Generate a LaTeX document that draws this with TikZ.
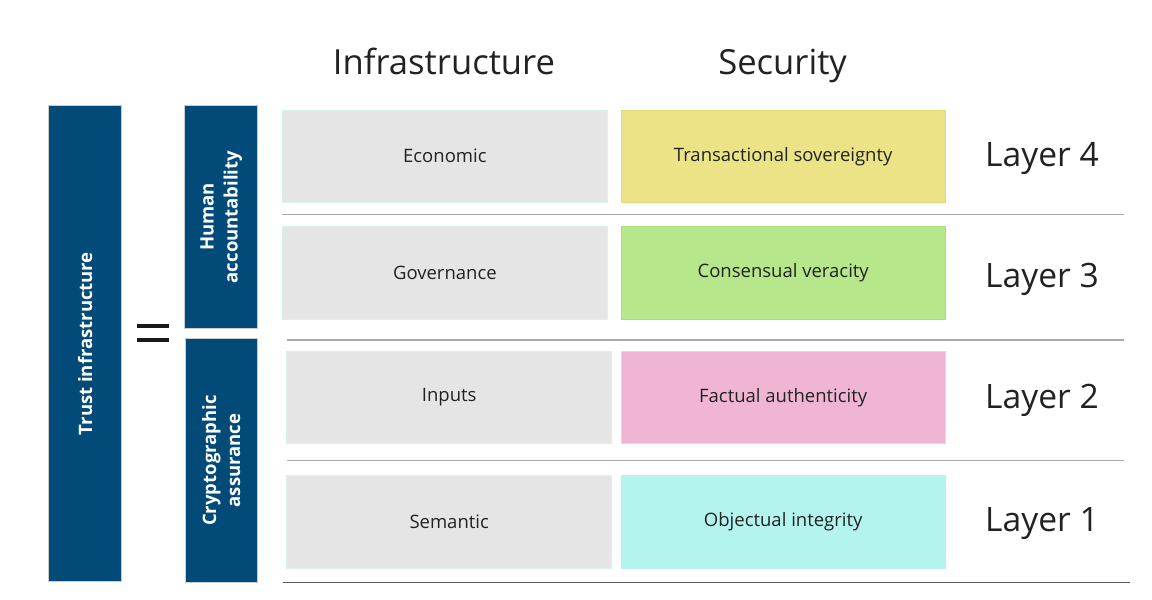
\documentclass[tikz,border=0pt]{standalone}
\usepackage{fontspec}
\setmainfont{Open Sans}
\definecolor{navy}{HTML}{024B79}
\definecolor{boxgray}{HTML}{E5E5E5}
\definecolor{boxgrayline}{HTML}{D5F2EE}
\definecolor{yel}{HTML}{ECE386}
\definecolor{yelline}{HTML}{E0D878}
\definecolor{grn}{HTML}{B6E78A}
\definecolor{grnline}{HTML}{A9DD7E}
\definecolor{pnk}{HTML}{F1B5D4}
\definecolor{pnkline}{HTML}{F6CDE0}
\definecolor{cyn}{HTML}{B3F5EE}
\definecolor{txt}{HTML}{222222}
\definecolor{rule}{HTML}{A8A8A8}
\definecolor{rulebottom}{HTML}{5A5A5A}
\tikzset{
  bar/.style={draw=black!20, line width=0.8pt, fill=navy, inner sep=0pt},
  bartext/.style={rotate=90, text=white, font=\fontsize{18.5}{24}\selectfont\bfseries, align=center},
  cell/.style={line width=0.8pt, inner sep=0pt, minimum height=92.3pt, text=txt, font=\fontsize{18.5}{22}\selectfont},
  graycell/.style={cell, fill=boxgray, draw=boxgrayline, minimum width=325pt},
  seccell/.style={cell, minimum width=324.5pt},
  layertext/.style={text=txt, font=\fontsize{33.6}{36}\selectfont, anchor=base},
  header/.style={text=txt, font=\fontsize{34.6}{38}\selectfont, anchor=base},
  divider/.style={draw=rule, line width=1.6pt},
  bottomrule/.style={draw=rulebottom, line width=1.3pt},
}
\begin{document}
\begin{tikzpicture}[x=1pt,y=-1pt]
\useasboundingbox (0,0) rectangle (1152,600);
% headers
\node[header] (hinf) at (444,74) {Infrastructure};
\node[header] (hsec) at (782.6,74) {Security};
% left bars
\node[bar, minimum width=73.2pt, minimum height=475.8pt] (trust) at (85.1,343.6) {};
\node[bartext] (trusttxt) at (trust.center) {Trust infrastructure};
\node[bar, minimum width=73pt, minimum height=222.6pt] (human) at (221.2,217) {};
\node[bartext] (humantxt) at (human.center) {Human\\accountability};
\node[bar, minimum width=72.7pt, minimum height=243.6pt] (crypto) at (221.3,460.5) {};
\node[bartext] (cryptotxt) at (crypto.center) {Cryptographic\\assurance};
% equals sign
\fill[black!90] (137.3,323.5) rectangle (168.7,328.3);
\fill[black!90] (137.3,337.5) rectangle (168.7,342.3);
% row cells
\node[graycell] (econ) at (444.9,156.2) {Economic};
\node[graycell] (gov) at (444.9,272.9) {Governance};
\node[graycell] (inp) at (449.2,397.4) {Inputs};
\node[graycell] (sem) at (449.2,522) {Semantic};
\node[seccell, fill=yel, draw=yelline] (trans) at (783.2,156.2) {Transactional sovereignty};
\node[seccell, fill=grn, draw=grnline] (cons) at (783.2,272.9) {Consensual veracity};
\node[seccell, fill=pnk, draw=pnkline] (fact) at (783.2,397.4) {Factual authenticity};
\node[seccell, fill=cyn, draw=cyn] (obj) at (783.2,522) {Objectual integrity};
% layer labels
\node[layertext] (l4) at (1042,166) {Layer 4};
\node[layertext] (l3) at (1042,287) {Layer 3};
\node[layertext] (l2) at (1042,408) {Layer 2};
\node[layertext] (l1) at (1042,531) {Layer 1};
% dividers
\coordinate (d1a) at (282.3,214.6); \coordinate (d1b) at (1123.5,214.6);
\coordinate (d2a) at (287,340.2); \coordinate (d2b) at (1123.5,340.2);
\coordinate (d3a) at (287,460.6); \coordinate (d3b) at (1123.5,460.6);
\coordinate (d4a) at (282.7,582.3); \coordinate (d4b) at (1130,582.3);
\draw[divider] (d1a) -- (d1b);
\draw[divider] (d2a) -- (d2b);
\draw[divider] (d3a) -- (d3b);
\draw[bottomrule] (d4a) -- (d4b);
\end{tikzpicture}
\end{document}
